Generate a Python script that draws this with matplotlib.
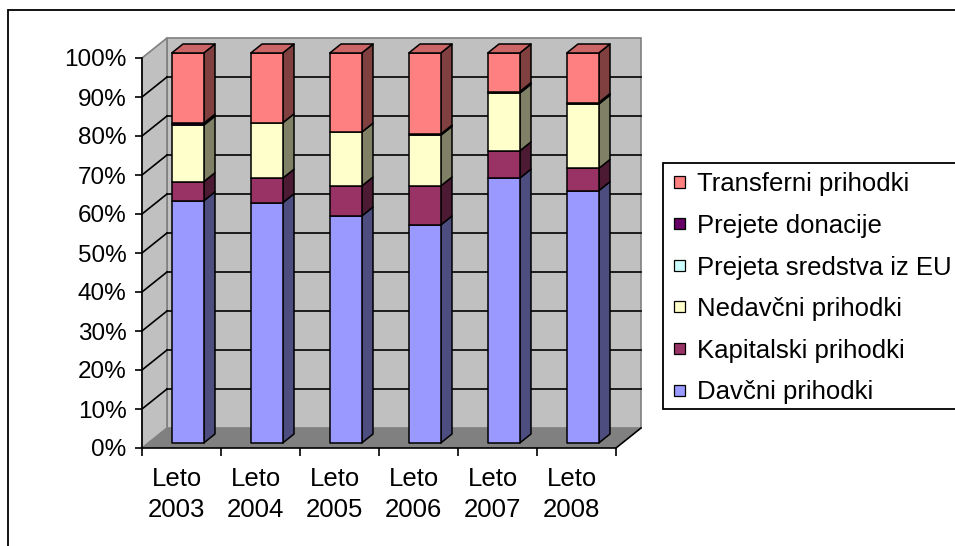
import matplotlib
matplotlib.use("Agg")
import matplotlib.pyplot as plt
import matplotlib.transforms as mtransforms
from matplotlib.patches import Polygon, Rectangle

plt.rcParams['font.family'] = ['Liberation Sans', 'DejaVu Sans']

# ---- data (shares of total revenue, %) ----
years = ["2003", "2004", "2005", "2006", "2007", "2008"]
category_labels = ["Leto\n" + y for y in years]
series_names = ["Davčni prihodki", "Kapitalski prihodki", "Nedavčni prihodki",
                "Prejeta sredstva iz EU", "Prejete donacije", "Transferni prihodki"]
davcni = [62.1, 61.6, 58.2, 55.9, 67.9, 64.7]
kapitalski = [4.9, 6.3, 7.7, 10.0, 7.0, 5.7]
nedavcni = [14.5, 14.2, 13.8, 13.0, 14.8, 16.5]
sredstva_eu = [0.0, 0.0, 0.0, 0.0, 0.0, 0.0]
donacije = [0.5, 0.0, 0.0, 0.3, 0.4, 0.4]
transferni = [18.0, 17.9, 20.3, 20.8, 9.9, 12.7]
series = [davcni, kapitalski, nedavcni, sredstva_eu, donacije, transferni]
y_ticks = list(range(0, 101, 10))

# face colours: front, side, top
front_cols = ["#9999FF", "#993366", "#FFFFCC", "#CCFFFF", "#660066", "#FF8080"]
side_cols = ["#4D4D80", "#4D1A33", "#808066", "#668080", "#330033", "#804040"]
top_cols = ["#7A7ACC", "#7A2952", "#CCCCA3", "#A3CCCC", "#520052", "#CC6666"]

W, H = 955, 546
fig = plt.figure(figsize=(W / 100, H / 100), dpi=100)
fig.patch.set_facecolor("white")

# front plane of the plot area in pixels
x0p, x1p, y0p, y1p = 142, 616, 448, 58
ax = fig.add_axes([x0p / W, 1 - y0p / H, (x1p - x0p) / W, (y0p - y1p) / H])
ax.set_xlim(0, len(years))
ax.set_ylim(0, 100)
ax.patch.set_visible(False)

# depth offsets in data units (full depth of the 3D box)
px_per_cat = (x1p - x0p) / len(years)
px_per_pct = (y0p - y1p) / 100
DX = 25 / px_per_cat
DY = 20 / px_per_pct


def proj(x, y, d):
    return (x + d * DX, y + d * DY)


n = len(years)
wall_col = "#C0C0C0"
floor_col = "#808080"

# walls and floor
ax.add_patch(Polygon([proj(0, 0, 1), proj(n, 0, 1), proj(n, 100, 1), proj(0, 100, 1)],
                     closed=True, fc=wall_col, ec="#808080", lw=1.2, zorder=0.2, clip_on=False))
ax.add_patch(Polygon([proj(0, 0, 0), proj(0, 0, 1), proj(0, 100, 1), proj(0, 100, 0)],
                     closed=True, fc=wall_col, ec="#808080", lw=1.2, zorder=0.2, clip_on=False))
ax.add_patch(Polygon([proj(0, 0, 0), proj(n, 0, 0), proj(n, 0, 1), proj(0, 0, 1)],
                     closed=True, fc=floor_col, ec="none", lw=0, zorder=0.3, clip_on=False))
# right edge of the floor
fx, fy = zip(proj(n, 0, 0), proj(n, 0, 1))
ax.plot(fx, fy, color="black", lw=1.2, zorder=0.4, clip_on=False)

# gridlines on back and side wall
for v in y_ticks[1:-1]:
    gx, gy = zip(proj(0, v, 1), proj(n, v, 1))
    ax.plot(gx, gy, color="black", lw=1.2, zorder=0.5, clip_on=False)
    gx, gy = zip(proj(0, v, 0), proj(0, v, 1))
    ax.plot(gx, gy, color="black", lw=1.2, zorder=0.5, clip_on=False)

# stacked 3D bars
hw = 0.2025
d0, d1 = 0.25, 0.70
for i in range(n):
    xa, xb = i + 0.5 - hw, i + 0.5 + hw
    base = 0.0
    vals = [s[i] for s in series]
    last = max(k for k, v in enumerate(vals) if v > 0)
    for k, v in enumerate(vals):
        if v <= 0:
            continue
        b, t = base, base + v
        front = [proj(xa, b, d0), proj(xb, b, d0), proj(xb, t, d0), proj(xa, t, d0)]
        side = [proj(xb, b, d0), proj(xb, b, d1), proj(xb, t, d1), proj(xb, t, d0)]
        ax.add_patch(Polygon(side, closed=True, fc=side_cols[k], ec="black",
                             lw=1.1, zorder=2, clip_on=False, joinstyle="round"))
        ax.add_patch(Polygon(front, closed=True, fc=front_cols[k], ec="black",
                             lw=1.1, zorder=2, clip_on=False, joinstyle="round"))
        if k == last:
            top = [proj(xa, t, d0), proj(xb, t, d0), proj(xb, t, d1), proj(xa, t, d1)]
            ax.add_patch(Polygon(top, closed=True, fc=top_cols[k], ec="black",
                                 lw=1.1, zorder=2, clip_on=False, joinstyle="round"))
        base = t

# axes lines, ticks and labels
for side_name in ["top", "right"]:
    ax.spines[side_name].set_visible(False)
for side_name in ["left", "bottom"]:
    ax.spines[side_name].set_color("black")
    ax.spines[side_name].set_linewidth(1.2)
    ax.spines[side_name].set_zorder(3)
ax.set_yticks(y_ticks)
ax.set_yticklabels([f"{v}%" for v in y_ticks])
ax.set_xticks(range(n + 1))
ax.set_xticklabels([])
ax.set_xticks([i + 0.5 for i in range(n)], minor=True)
ax.set_xticklabels(category_labels, minor=True)
ax.tick_params(axis="y", direction="out", length=5, width=1.2, pad=6, labelsize=17.5)
ax.tick_params(axis="x", which="major", direction="out", length=6, width=1.2)
ax.tick_params(axis="x", which="minor", length=0, pad=14, labelsize=18.5)
shift = mtransforms.ScaledTranslation(-5 / 100, 0, fig.dpi_scale_trans)
for lbl in ax.get_xticklabels(minor=True):
    lbl.set_linespacing(1.35)
    lbl.set_transform(lbl.get_transform() + shift)

# outer chart border
fig.patches.append(Rectangle((8 / W, -0.05), 1.2, 1 - 10 / H + 0.05, transform=fig.transFigure,
                             fill=False, ec="black", lw=1.3))

# legend
leg_left, leg_top, leg_bottom = 663, 163, 409
fig.patches.append(Rectangle((leg_left / W, 1 - leg_bottom / H), 0.5, (leg_bottom - leg_top) / H,
                             transform=fig.transFigure, fill=True, fc="white", ec="black", lw=1.3,
                             zorder=5))
order = list(range(len(series_names)))[::-1]
for j, k in enumerate(order):
    yc = 182 + j * 41.6
    sq = 11
    fig.patches.append(Rectangle((674 / W, 1 - (yc + sq / 2) / H), sq / W, sq / H,
                                 transform=fig.transFigure, fc=front_cols[k], ec="black",
                                 lw=0.9, zorder=6))
    fig.text(697 / W, 1 - yc / H, series_names[k], ha="left", va="center_baseline",
             fontsize=18.5, zorder=7)

fig.savefig("out.png", dpi=100)
